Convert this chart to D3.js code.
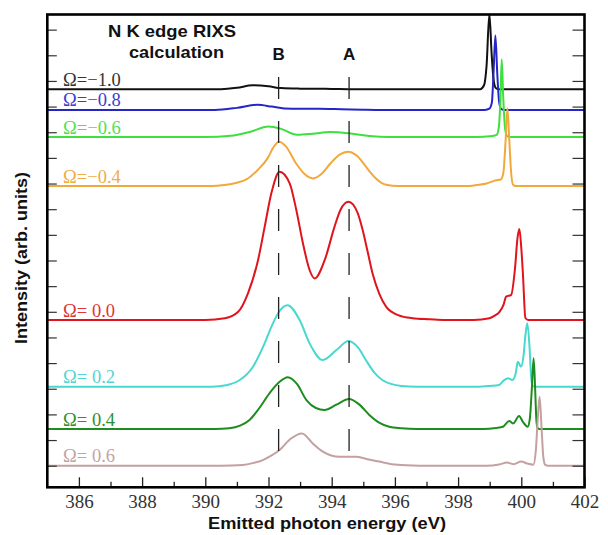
<!DOCTYPE html>
<html><head><meta charset="utf-8">
<script src="https://cdn.jsdelivr.net/npm/d3@7"></script>
<style>body{margin:0;background:#fff} svg{display:block}</style>
</head><body><svg id="c" width="608" height="535"></svg>
<script>
// ---------- data ----------
const energyDomain = [385, 402];
const intensityDomain = [-8.42, 175.9];
const xMajorTicks = [386, 388, 390, 392, 394, 396, 398, 400, 402];
const xMinorTicks = [387, 389, 391, 393, 395, 397, 399, 401];
const yTicks = [0, 10, 20, 30, 40, 50, 60, 70, 80, 90, 100, 110, 120, 130, 140, 150, 160, 170];
const omegaLabels = ["Ω=−1.0", "Ω=−0.8", "Ω=−0.6", "Ω=−0.4", "Ω= 0.0", "Ω= 0.2", "Ω= 0.4", "Ω= 0.6"];
const offsets = [146.8, 138.7, 128.1, 109.0, 56.8, 30.8, 14.3, 0];
const markerLabels = ["B", "A"];
const markerEnergies = [392.32, 394.55];
const titleLines = ["N K edge RIXS", "calculation"];
const xTitle = "Emitted photon energy (eV)";
const yTitle = "Intensity (arb. units)";

const specM10 = [[385,0],[390.5,0],[391.0,0.5],[391.5,1.5],[392.0,1.1],[392.4,0.4],[393.0,0.2],[394.0,0.1],[394.6,0],[398.7,0],[398.82,1.5],[398.9,9],[398.99,29.3],[399.06,14],[399.12,4],[399.19,0.5],[399.27,0],[402,0]];
const specM08 = [[385,0],[390.3,0],[391.0,0.8],[391.65,2.0],[392.1,1.3],[392.5,0.6],[393.0,0.45],[393.6,0.45],[394.3,0.3],[395.0,0.1],[395.6,0],[398.85,0],[398.99,0.5],[399.07,3],[399.12,14],[399.18,29],[399.24,14],[399.3,3],[399.37,0.3],[399.47,0],[402,0]];
const specM06 = [[385,0],[390.0,0],[390.8,0.5],[391.4,2.0],[392.0,4.1],[392.4,3.2],[392.9,0.9],[393.4,1.3],[393.95,2.0],[394.6,1.4],[395.2,0.4],[395.8,0],[398.6,0],[399.0,0.3],[399.22,0.9],[399.29,4],[399.34,15],[399.38,30.3],[399.43,15],[399.49,3],[399.56,0.3],[399.66,0],[402,0]];
const specM04 = [[385,0],[390.2,0],[390.6,0.4],[391.0,1.3],[391.3,2.6],[391.65,6.2],[391.98,11],[392.15,15],[392.33,17.3],[392.55,15.5],[392.88,8.7],[393.15,4.6],[393.41,3.0],[393.7,5],[393.95,8.7],[394.25,12.3],[394.52,13.4],[394.8,11.8],[395.1,7.3],[395.25,5.0],[395.4,3.0],[395.73,0.5],[396.1,0],[398.3,0],[398.58,0.4],[398.9,1.0],[399.2,2.3],[399.35,2.6],[399.43,5],[399.5,17],[399.56,30.4],[399.62,18],[399.68,5],[399.74,0.5],[399.82,0],[402,0]];
const specP00 = [[385,0],[390.0,0],[390.62,0.7],[391.04,3.2],[391.35,10.4],[391.67,23.4],[391.88,36.4],[392.09,49.4],[392.35,57.8],[392.67,53.3],[392.88,42.9],[393.09,29.9],[393.3,19.5],[393.46,16.2],[393.78,23.4],[394.09,36.4],[394.28,43],[394.53,46.1],[394.82,41.8],[394.98,35.1],[395.14,26.5],[395.3,17.8],[395.5,10.4],[395.72,5.2],[396.1,1.9],[396.56,0.7],[397.1,0.3],[397.6,0],[398.5,0],[398.99,0.7],[399.17,1.8],[399.31,3.2],[399.44,6],[399.52,9.1],[399.68,9.8],[399.8,20],[399.88,32],[399.94,35.5],[400.0,28],[400.05,18.3],[400.13,0.8],[400.22,0],[402,0]];
const specP02 = [[385,0],[390.2,0],[390.7,0.7],[391.09,2.6],[391.51,7.8],[391.83,15.6],[392.14,24.7],[392.35,29.5],[392.6,31.8],[392.99,25.9],[393.3,16.9],[393.72,10.4],[394.15,14.3],[394.53,17.8],[394.85,15],[395.08,10.4],[395.35,5.5],[395.6,2.6],[395.9,1.0],[396.2,0.3],[396.7,0],[398.6,0],[399.0,0.3],[399.3,0.7],[399.45,2.5],[399.58,3.3],[399.72,2.6],[399.82,5],[399.89,9.7],[399.99,7.8],[400.07,12],[400.13,20],[400.19,24.7],[400.26,15.6],[400.31,4],[400.36,0.3],[400.42,0],[402,0]];
const specP04 = [[385,0],[390.3,0],[390.76,0.3],[391.1,1.3],[391.4,3.5],[391.7,8],[392.03,13.9],[392.35,18.4],[392.61,20.2],[392.9,17.6],[393.2,11.3],[393.5,8.2],[393.77,7.4],[394.15,9.5],[394.55,11.7],[394.85,9.8],[395.19,5.5],[395.5,2.5],[395.82,0.9],[396.2,0.3],[396.7,0],[398.8,0],[399.2,0.4],[399.42,0.9],[399.62,3.1],[399.74,2.2],[399.93,5.1],[400.05,2.8],[400.2,0.9],[400.27,4],[400.33,15],[400.39,27.6],[400.44,15],[400.48,3],[400.52,0.3],[400.57,0],[402,0]];
const specP06 = [[385,0],[390.5,0],[391.19,0.3],[391.5,1.0],[391.82,2.2],[392.1,4.0],[392.35,6.1],[392.7,10.5],[393.06,12.6],[393.4,8.7],[393.72,5.5],[394.25,3.5],[394.77,3.5],[395.1,2.6],[395.5,1.6],[395.9,0.6],[396.35,0.2],[397.2,0],[398.9,0],[399.3,0.5],[399.55,1.2],[399.75,0.6],[400.0,1.6],[400.2,0.8],[400.38,0.4],[400.46,6],[400.52,18],[400.58,26.9],[400.64,15],[400.7,3],[400.76,0.3],[400.85,0],[402,0]];
const spectra = [specM10, specM08, specM06, specM04, specP00, specP02, specP04, specP06];

// ---------- style ----------
const lineColors = ["#111111", "#2626c8", "#3ee03e", "#f2a93b", "#e0141c", "#48d8d0", "#1e8c1e", "#c4a0a0"];
const labelColors = ["#333333", "#3c3cd0", "#52e052", "#f0ac45", "#e03535", "#55d4d0", "#2e902e", "#c4a4a4"];

const svg = d3.select("#c");
const X0 = 47.3, X1 = 584.5, Y0 = 487.3, Y1 = 14.5;
const x = d3.scaleLinear().domain(energyDomain).range([X0, X1]);
const y = d3.scaleLinear().domain(intensityDomain).range([Y0, Y1]);

svg.append("defs").append("clipPath").attr("id", "plot")
  .append("rect").attr("x", X0).attr("y", Y1).attr("width", X1 - X0).attr("height", Y0 - Y1);

// curves
const g = svg.append("g").attr("clip-path", "url(#plot)");
spectra.forEach((s, i) => {
  const line = d3.line().curve(d3.curveMonotoneX)
    .x(d => x(d[0])).y(d => y(d[1] + offsets[i]));
  g.append("path").attr("d", line(s)).attr("fill", "none")
    .attr("stroke", lineColors[i]).attr("stroke-width", 2).attr("stroke-linejoin", "round");
});

// omega labels
omegaLabels.forEach((t, i) => {
  svg.append("text").attr("x", x(385.5)).attr("y", y(offsets[i]) - 3.5)
    .attr("font-family", "Liberation Serif, Times New Roman, serif").attr("font-size", 18.5)
    .attr("fill", labelColors[i]).text(t);
});

// dashed marker lines
markerEnergies.forEach((e, i) => {
  svg.append("line").attr("x1", x(e)).attr("x2", x(e))
    .attr("y1", 77).attr("y2", 452)
    .attr("stroke", "#222").attr("stroke-width", 1.3).attr("stroke-dasharray", "22,22");
  svg.append("text").attr("x", x(e)).attr("y", 60).attr("text-anchor", "middle")
    .attr("font-family", "Liberation Sans, Arial, sans-serif").attr("font-weight", "bold")
    .attr("font-size", 17).attr("fill", "#111").text(markerLabels[i]);
});

// title
const titleCx = [172, 176.5], titleY = [37, 57.5], titleLen = [128, 95];
titleLines.forEach((t, i) => {
  svg.append("text").attr("x", titleCx[i]).attr("y", titleY[i]).attr("text-anchor", "middle")
    .attr("font-family", "Liberation Sans, Arial, sans-serif").attr("font-weight", "bold")
    .attr("font-size", 17).attr("fill", "#111")
    .attr("textLength", titleLen[i]).attr("lengthAdjust", "spacingAndGlyphs").text(t);
});

// axes
const axB = svg.append("g").attr("transform", `translate(0,${Y0})`)
  .call(d3.axisBottom(x).tickValues(xMajorTicks).tickSizeInner(-10).tickSizeOuter(0).tickPadding(7).tickFormat(d3.format("d")));
axB.select(".domain").remove();
axB.selectAll(".tick line").attr("stroke", "#222").attr("stroke-width", 1.3);
axB.selectAll(".tick text").attr("font-family", "Liberation Serif, Times New Roman, serif")
  .attr("font-size", 19).attr("fill", "#333");
const axBm = svg.append("g").attr("transform", `translate(0,${Y0})`)
  .call(d3.axisBottom(x).tickValues(xMinorTicks).tickSizeInner(-5.5).tickSizeOuter(0).tickFormat(""));
axBm.select(".domain").remove();
axBm.selectAll(".tick line").attr("stroke", "#222").attr("stroke-width", 1.3);

const axL = svg.append("g").attr("transform", `translate(${X0},0)`)
  .call(d3.axisLeft(y).tickValues(yTicks).tickSizeInner(-9.5).tickSizeOuter(0).tickFormat(""));
axL.select(".domain").remove();
axL.selectAll(".tick line").attr("stroke", "#333").attr("stroke-width", 1.2);
const axR = svg.append("g").attr("transform", `translate(${X1},0)`)
  .call(d3.axisRight(y).tickValues(yTicks).tickSizeInner(-12).tickSizeOuter(0).tickFormat(""));
axR.select(".domain").remove();
axR.selectAll(".tick line").attr("stroke", "#333").attr("stroke-width", 1.2);

// frame
svg.append("rect").attr("x", X0).attr("y", Y1).attr("width", X1 - X0).attr("height", Y0 - Y1)
  .attr("fill", "none").attr("stroke", "#000").attr("stroke-width", 2.6);

// axis titles
svg.append("text").attr("x", 327).attr("y", 529).attr("text-anchor", "middle")
  .attr("font-family", "Liberation Sans, Arial, sans-serif").attr("font-weight", "bold")
  .attr("font-size", 17).attr("fill", "#111")
  .attr("textLength", 238).attr("lengthAdjust", "spacingAndGlyphs").text(xTitle);
svg.append("text").attr("transform", "translate(27,258) rotate(-90)").attr("text-anchor", "middle")
  .attr("font-family", "Liberation Sans, Arial, sans-serif").attr("font-weight", "bold")
  .attr("font-size", 16).attr("fill", "#111")
  .attr("textLength", 172).attr("lengthAdjust", "spacingAndGlyphs").text(yTitle);
</script></body></html>
